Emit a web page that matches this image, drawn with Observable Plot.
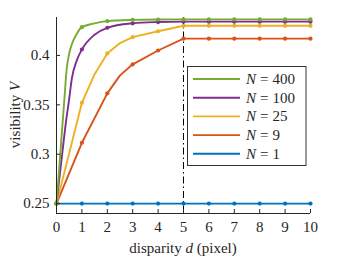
<!DOCTYPE html>
<html><head><meta charset="utf-8">
<script src="https://cdn.jsdelivr.net/npm/d3@7"></script>
<script src="https://cdn.jsdelivr.net/npm/@observablehq/plot@0.6"></script>
<style>body{margin:0;background:#fff} svg{display:block}</style>
</head><body><div id="chart"></div>
<script>
const seriesN = [400, 100, 25, 9, 1];
const seriesColors = ["#77AC30", "#7E2F8E", "#EDB120", "#D95319", "#0072BD"];

const markD = [0, 1, 2, 3, 4, 5, 6, 7, 8, 9, 10];
const markV400 = [0.25, 0.4286, 0.4347, 0.4360, 0.4364, 0.4365, 0.4365, 0.4365, 0.4365, 0.4365, 0.4365];
const markV100 = [0.25, 0.406, 0.428, 0.4325, 0.4338, 0.4342, 0.4342, 0.4342, 0.4342, 0.4342, 0.4342];
const markV25 = [0.25, 0.352, 0.402, 0.4186, 0.4245, 0.4300, 0.4300, 0.4300, 0.4300, 0.4300, 0.4300];
const markV9 = [0.25, 0.3116, 0.3616, 0.391, 0.405, 0.417, 0.417, 0.417, 0.417, 0.417, 0.417];
const markV1 = [0.25, 0.25, 0.25, 0.25, 0.25, 0.25, 0.25, 0.25, 0.25, 0.25, 0.25];

const curveD400 = [0, 0.1, 0.2, 0.3, 0.4, 0.5, 0.6, 0.8, 1, 1.5, 2, 3, 4, 5, 10];
const curveV400 = [0.25, 0.283, 0.318, 0.352, 0.386, 0.402, 0.411, 0.422, 0.4286, 0.4325, 0.4347, 0.4360, 0.4364, 0.4365, 0.4365];
const curveD100 = [0, 0.2, 0.4, 0.5, 0.6, 0.8, 1, 1.5, 2, 3, 4, 5, 10];
const curveV100 = [0.25, 0.295, 0.338, 0.356, 0.376, 0.395, 0.406, 0.421, 0.428, 0.4325, 0.4338, 0.4342, 0.4342];
const curveD25 = [0, 1, 1.5, 2, 2.5, 3, 4, 5, 10];
const curveV25 = [0.25, 0.352, 0.381, 0.402, 0.4125, 0.4186, 0.4245, 0.4300, 0.4300];
const curveD9 = [0, 1, 2, 2.5, 3, 4, 5, 10];
const curveV9 = [0.25, 0.3116, 0.3616, 0.3798, 0.391, 0.405, 0.417, 0.417];
const curveD1 = [0, 10];
const curveV1 = [0.25, 0.25];

const xTicks = [0, 1, 2, 3, 4, 5, 6, 7, 8, 9, 10];
const yTicks = [0.25, 0.3, 0.35, 0.4];
const xDomain = [0, 10];
const yDomain = [0.24, 0.4384];
const cutoffD = 5;

const markVs = [markV400, markV100, markV25, markV9, markV1];
const curveDs = [curveD400, curveD100, curveD25, curveD9, curveD1];
const curveVs = [curveV400, curveV100, curveV25, curveV9, curveV1];

const axisColor = "#262626";
const font = "'Liberation Serif', 'DejaVu Serif', serif";

const curveRows = seriesN.flatMap((n, i) => curveDs[i].map((d, j) => ({n, d, v: curveVs[i][j]})));
const markRows = seriesN.flatMap((n, i) => markD.map((d, j) => ({n, d, v: markVs[i][j]})));
const colorOf = new Map(seriesN.map((n, i) => [n, seriesColors[i]]));
const smooth = new Set([400, 100]);

const drawOrder = [...seriesN].reverse();
const lineMarks = drawOrder.map(n => Plot.line(curveRows.filter(r => r.n === n), {
  x: "d", y: "v", stroke: colorOf.get(n), strokeWidth: 1.9,
  curve: smooth.has(n) ? "monotone-x" : "linear"
}));
const dotMarks = drawOrder.map(n => Plot.dot(markRows.filter(r => r.n === n), {
  x: "d", y: "v", fill: colorOf.get(n), r: 2.1, stroke: "none"
}));

const svg = Plot.plot({
  width: 342, height: 257,
  marginLeft: 56, marginRight: 32, marginTop: 17, marginBottom: 44,
  style: {fontFamily: font, fontSize: "15px", color: axisColor, background: "#fff"},
  x: {domain: xDomain},
  y: {domain: yDomain},
  marks: [
    Plot.ruleX([cutoffD], {stroke: "#000", strokeWidth: 1, strokeDasharray: "7,3,1.5,3"}),
    ...lineMarks,
    ...dotMarks,
    Plot.ruleX([xDomain[0]], {stroke: axisColor, strokeWidth: 1}),
    Plot.ruleY([yDomain[0]], {stroke: axisColor, strokeWidth: 1}),
    Plot.axisX({ticks: xTicks, tickSize: -4, tickPadding: 12, label: null, tickFormat: d => String(d), stroke: axisColor, fill: axisColor}),
    Plot.axisY({ticks: yTicks, tickSize: -4, tickPadding: 11, label: null, tickFormat: d => String(d), stroke: axisColor, fill: axisColor})
  ]
});

const root = d3.select(svg);
// axis labels
const xl = root.append("text").attr("x", 183).attr("y", 253).attr("text-anchor", "middle")
  .attr("fill", axisColor).style("font-size", "15px").style("font-family", font);
xl.append("tspan").text("disparity ");
xl.append("tspan").attr("font-style", "italic").text("d");
xl.append("tspan").text(" (pixel)");

const yl = root.append("text").attr("transform", "translate(20,115) rotate(-90)").attr("text-anchor", "middle")
  .attr("fill", axisColor).style("font-size", "15px").style("font-family", font);
yl.append("tspan").text("visibility ");
yl.append("tspan").attr("font-style", "italic").text("V");

// legend
const lg = root.append("g");
lg.append("rect").attr("x", 187.5).attr("y", 66.5).attr("width", 118.5).attr("height", 99)
  .attr("fill", "#fff").attr("stroke", "#333").attr("stroke-width", 1);
seriesN.forEach((n, i) => {
  const cy = 79 + i * 18.7;
  lg.append("line").attr("x1", 193).attr("x2", 240).attr("y1", cy).attr("y2", cy)
    .attr("stroke", seriesColors[i]).attr("stroke-width", 1.9);
  const t = lg.append("text").attr("x", 246).attr("y", cy + 5).attr("text-anchor", "start").attr("fill", axisColor)
    .style("font-size", "15px").style("font-family", font);
  t.append("tspan").attr("font-style", "italic").text("N");
  t.append("tspan").attr("dx", 4).text("=");
  t.append("tspan").attr("dx", 4).text(String(n));
});

document.getElementById("chart").appendChild(svg);
</script>
</body></html>
